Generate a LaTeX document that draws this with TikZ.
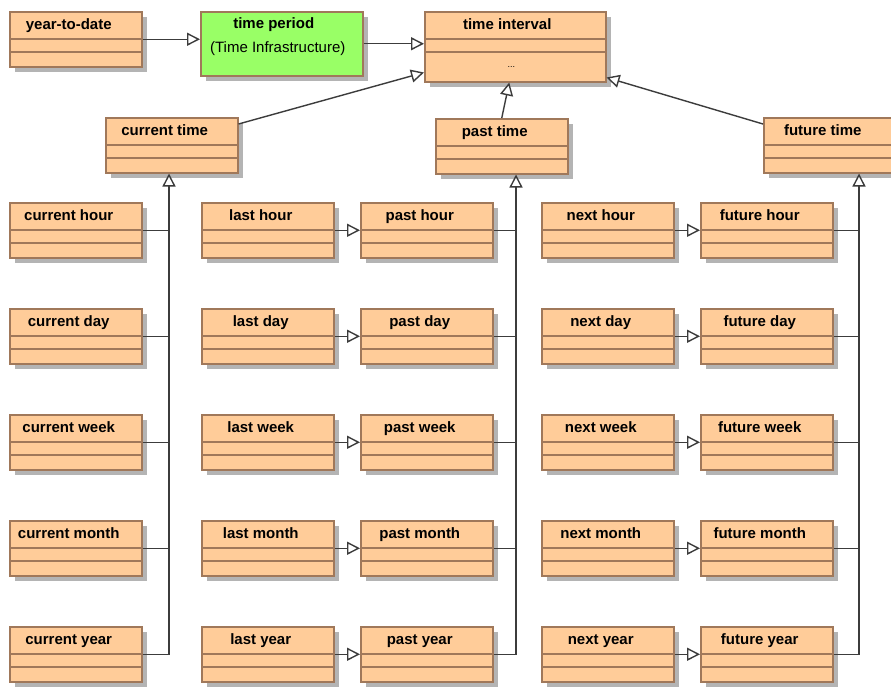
\documentclass[tikz,border=0pt]{standalone}
\usepackage{fontspec}
\setmainfont{Liberation Sans}
\usetikzlibrary{arrows.meta,shadows,calc}
\definecolor{boxfill}{HTML}{FFCC99}
\definecolor{boxline}{HTML}{A0785A}
\definecolor{greenfill}{HTML}{99FF66}
\definecolor{shadowgray}{HTML}{B4B4B4}
\definecolor{connc}{HTML}{3C3C3C}
\tikzset{
 umlbox/.style={draw=boxline, line width=1.5pt, fill=boxfill, inner sep=0pt, anchor=north west,
   drop shadow={shadow xshift=5pt, shadow yshift=-5pt, fill=shadowgray, opacity=1}},
 sepline/.style={draw=boxline, line width=1.5pt},
 title/.style={font=\bfseries\fontsize{15}{18}\selectfont, anchor=base, inner sep=0pt},
 plain/.style={font=\fontsize{15}{18}\selectfont, anchor=base, inner sep=0pt},
 conn/.style={draw=connc, line width=1.4pt},
 gen/.style={conn, -{Triangle[open, length=13pt, width=13pt, fill=white]}},
}
\newcommand\umlcls[4]{%
 \node[umlbox, minimum width=132pt, minimum height=55pt] (#1) at (#2,#3) {};
 \draw[sepline] ([yshift=-28pt]#1.north west) -- ([yshift=-28pt]#1.north east);
 \draw[sepline] ([yshift=-41pt]#1.north west) -- ([yshift=-41pt]#1.north east);
 \node[title] (#1-t) at ([xshift=-7pt,yshift=-18pt]#1.north) {#4};
}
\begin{document}
\begin{tikzpicture}[x=1pt,y=-1pt]
\useasboundingbox[fill=white] (0,0) rectangle (891,686);

% top row
\umlcls{ytd}{9}{11}{year-to-date}
\node[umlbox, fill=greenfill, minimum width=162pt, minimum height=64pt] (tp) at (200,11) {};
\node[title] (tp-t) at ([xshift=-8pt,yshift=-17pt]tp.north) {time period};
\node[plain] (tp-s) at ([xshift=-4pt,yshift=-41pt]tp.north) {(Time Infrastructure)};
\node[umlbox, minimum width=181pt, minimum height=70pt] (ti) at (424,11) {};
\draw[sepline] ([yshift=-28pt]ti.north west) -- ([yshift=-28pt]ti.north east);
\draw[sepline] ([yshift=-41pt]ti.north west) -- ([yshift=-41pt]ti.north east);
\node[title] (ti-t) at ([xshift=-8pt,yshift=-18pt]ti.north) {time interval};
\node[font=\fontsize{9}{10}\selectfont, anchor=base, inner sep=0pt] (ti-d) at ([xshift=-4pt,yshift=15pt]ti.south) {...};

% second row
\umlcls{ct}{105}{117}{current time}
\umlcls{pt}{435}{118}{past time}
\umlcls{ft}{763}{117}{future time}

% grid rows
\umlcls{ch}{9}{202}{current hour}
\umlcls{cd}{9}{308}{current day}
\umlcls{cw}{9}{414}{current week}
\umlcls{cm}{9}{520}{current month}
\umlcls{cy}{9}{626}{current year}

\umlcls{lh}{201}{202}{last hour}
\umlcls{ld}{201}{308}{last day}
\umlcls{lw}{201}{414}{last week}
\umlcls{lm}{201}{520}{last month}
\umlcls{ly}{201}{626}{last year}

\umlcls{ph}{360}{202}{past hour}
\umlcls{pd}{360}{308}{past day}
\umlcls{pw}{360}{414}{past week}
\umlcls{pm}{360}{520}{past month}
\umlcls{py}{360}{626}{past year}

\umlcls{nh}{541}{202}{next hour}
\umlcls{nd}{541}{308}{next day}
\umlcls{nw}{541}{414}{next week}
\umlcls{nm}{541}{520}{next month}
\umlcls{ny}{541}{626}{next year}

\umlcls{fh}{700}{202}{future hour}
\umlcls{fd}{700}{308}{future day}
\umlcls{fw}{700}{414}{future week}
\umlcls{fm}{700}{520}{future month}
\umlcls{fy}{700}{626}{future year}

% top connectors
\draw[gen] (ytd.east) -- (tp.west |- ytd.east);
\draw[gen] (tp.east) -- (ti.west |- tp.east);
\draw[gen] ([yshift=-7pt]ct.north east) -- ([yshift=10pt]ti.south west);
\draw[gen] (pt.north) -- ([xshift=-6pt]ti.south);
\draw[gen] ([yshift=-7pt]ft.north west) -- ([yshift=5pt]ti.south east);

% bus coordinates
\coordinate (cb) at (169,0);
\coordinate (pb) at (516,0);
\coordinate (fb) at (859,0);

% current bus
\draw[gen] (cy.east) -| (cb |- ct.south);
\foreach \n in {ch,cd,cw,cm} \draw[conn] (\n.east) -- (\n.east -| cb);

% past bus
\draw[gen] (py.east) -| (pb |- pt.south);
\foreach \n in {ph,pd,pw,pm} \draw[conn] (\n.east) -- (\n.east -| pb);

% future bus
\draw[gen] (fy.east) -| (fb |- ft.south);
\foreach \n in {fh,fd,fw,fm} \draw[conn] (\n.east) -- (\n.east -| fb);

% last -> past, next -> future
\foreach \a/\b in {lh/ph,ld/pd,lw/pw,lm/pm,ly/py,nh/fh,nd/fd,nw/fw,nm/fm,ny/fy}
  \draw[gen] (\a.east) -- (\b.west);
\end{tikzpicture}
\end{document}
